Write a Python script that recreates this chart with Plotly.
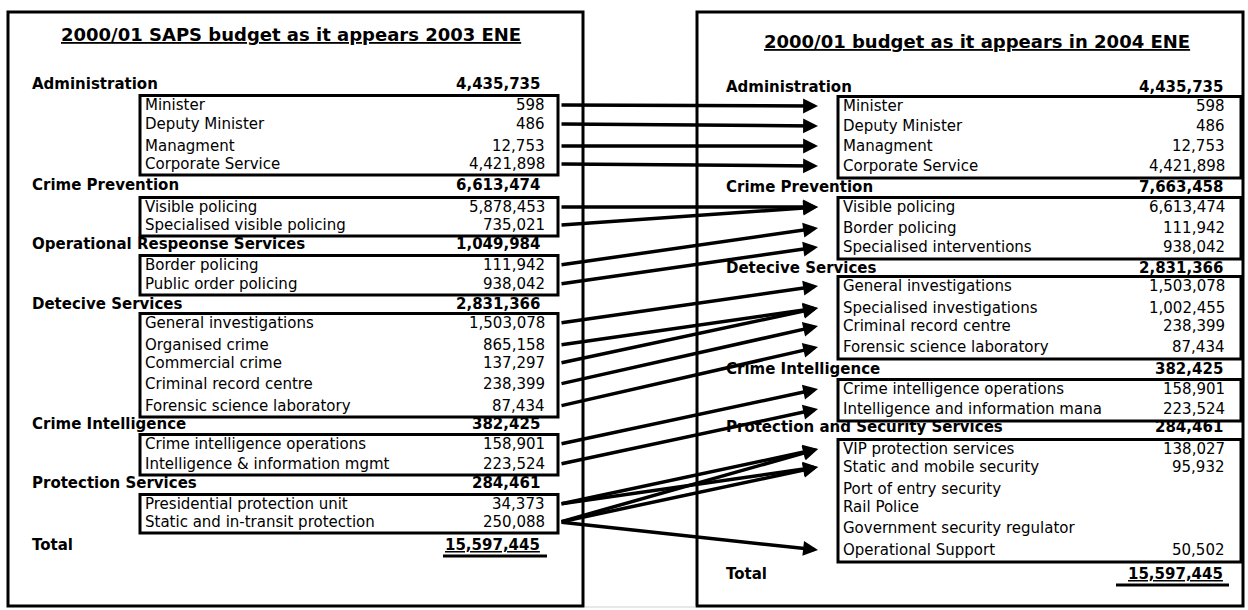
import plotly.graph_objects as go

# ---------------- data ----------------
left_title = "2000/01 SAPS budget as it appears 2003 ENE"
right_title = "2000/01 budget as it appears in 2004 ENE"

left_programmes = ["Administration", "Crime Prevention", "Operational Respeonse Services",
                   "Detecive Services", "Crime Intelligence", "Protection Services"]
left_programme_totals = [4435735, 6613474, 1049984, 2831366, 382425, 284461]
left_subprogrammes = [
    ["Minister", "Deputy Minister", "Managment", "Corporate Service"],
    ["Visible policing", "Specialised visible policing"],
    ["Border policing", "Public order policing"],
    ["General investigations", "Organised crime", "Commercial crime",
     "Criminal record centre", "Forensic science laboratory"],
    ["Crime intelligence operations", "Intelligence & information mgmt"],
    ["Presidential protection unit", "Static and in-transit protection"],
]
left_subprogramme_values = [
    [598, 486, 12753, 4421898],
    [5878453, 735021],
    [111942, 938042],
    [1503078, 865158, 137297, 238399, 87434],
    [158901, 223524],
    [34373, 250088],
]
left_total = 15597445

right_programmes = ["Administration", "Crime Prevention", "Detecive Services",
                    "Crime Intelligence", "Protection and Security Services"]
right_programme_totals = [4435735, 7663458, 2831366, 382425, 284461]
right_subprogrammes = [
    ["Minister", "Deputy Minister", "Managment", "Corporate Service"],
    ["Visible policing", "Border policing", "Specialised interventions"],
    ["General investigations", "Specialised investigations",
     "Criminal record centre", "Forensic science laboratory"],
    ["Crime intelligence operations", "Intelligence and information mana"],
    ["VIP protection services", "Static and mobile security", "Port of entry security",
     "Rail Police", "Government security regulator", "Operational Support"],
]
right_subprogramme_values = [
    [598, 486, 12753, 4421898],
    [6613474, 111942, 938042],
    [1503078, 1002455, 238399, 87434],
    [158901, 223524],
    [138027, 95932, None, None, None, 50502],
]
right_total = 15597445

links = [
    ("Minister", "Minister"),
    ("Deputy Minister", "Deputy Minister"),
    ("Managment", "Managment"),
    ("Corporate Service", "Corporate Service"),
    ("Visible policing", "Visible policing"),
    ("Specialised visible policing", "Visible policing"),
    ("Border policing", "Border policing"),
    ("Public order policing", "Specialised interventions"),
    ("General investigations", "General investigations"),
    ("Organised crime", "Specialised investigations"),
    ("Commercial crime", "Specialised investigations"),
    ("Criminal record centre", "Criminal record centre"),
    ("Forensic science laboratory", "Forensic science laboratory"),
    ("Crime intelligence operations", "Crime intelligence operations"),
    ("Intelligence & information mgmt", "Intelligence and information mana"),
    ("Presidential protection unit", "VIP protection services"),
    ("Presidential protection unit", "Static and mobile security"),
    ("Static and in-transit protection", "VIP protection services"),
    ("Static and in-transit protection", "Static and mobile security"),
    ("Static and in-transit protection", "Operational Support"),
]

# ---------------- layout (positions / styles) ----------------
W, H = 1248, 610
FONT = "DejaVu Sans"
left_layout = dict(
    frame=(8, 12, 583, 606), title_x=291, title_y=34,
    header_x=30, header_num_x=542, item_x=143, item_num_x=547,
    box_x=(140, 558), header_y=[84, 185, 244, 304, 424, 483],
    item_y=[[105, 124, 146, 164], [207, 225], [265, 284],
            [323, 345, 363, 384, 406], [444, 464], [504, 522]],
    total_y=545, underline=(443, 547, 556), box_pad=(9.5, 11),
)
right_layout = dict(
    frame=(697, 12, 1243, 606), title_x=977, title_y=41,
    header_x=724, header_num_x=1225, item_x=841, item_num_x=1227,
    box_x=(838, 1241), header_y=[87, 187, 268, 369, 427],
    item_y=[[106, 126, 146, 166], [207, 228, 247], [286, 308, 326, 347],
            [389, 409], [449, 467, 489, 507, 528, 550]],
    total_y=574, underline=(1116, 1229, 585), box_pad=(9.5, 12),
)
ARROW_START_X, ARROW_TIP_X = 560, 818


def fmt(v):
    return "" if v is None else f"{v:,}"


fig = go.Figure()
fig.add_trace(go.Scatter(x=[], y=[], showlegend=False))
annotations, shapes = [], []


def txt(x, y, s, anchor="left", bold=False, size=15, under=False):
    annotations.append(dict(
        x=x, y=y, xref="x", yref="y", text=s, showarrow=False,
        xanchor=anchor, yanchor="middle",
        font=dict(family=FONT, size=size, color="black",
                  weight="bold" if bold else "normal",
                  lineposition="under" if under else "none"),
    ))


def draw_panel(title, progs, prog_totals, subs, sub_vals, total, L):
    fx0, fy0, fx1, fy1 = L["frame"]
    shapes.append(dict(type="rect", x0=fx0, y0=fy0, x1=fx1, y1=fy1,
                       line=dict(color="black", width=3)))
    txt(L["title_x"], L["title_y"], title, anchor="center", bold=True, size=18, under=True)
    pos = {}
    pt, pb = L["box_pad"]
    for i, prog in enumerate(progs):
        hy = L["header_y"][i]
        txt(L["header_x"], hy, prog, bold=True)
        txt(L["header_num_x"], hy, fmt(prog_totals[i]), anchor="right", bold=True)
        ys = L["item_y"][i]
        for lab, val, y in zip(subs[i], sub_vals[i], ys):
            txt(L["item_x"], y, lab)
            txt(L["item_num_x"], y, fmt(val), anchor="right")
            pos[lab] = y
        bx0, bx1 = L["box_x"]
        shapes.append(dict(type="rect", x0=bx0, x1=bx1, y0=ys[0] - pt, y1=ys[-1] + pb,
                           line=dict(color="black", width=3)))
    txt(L["header_x"], L["total_y"], "Total", bold=True)
    txt(L["header_num_x"], L["total_y"], fmt(total), anchor="right", bold=True, under=True)
    ux0, ux1, uy = L["underline"]
    shapes.append(dict(type="line", x0=ux0, x1=ux1, y0=uy, y1=uy,
                       line=dict(color="black", width=3)))
    return pos


lpos = draw_panel(left_title, left_programmes, left_programme_totals, left_subprogrammes,
                  left_subprogramme_values, left_total, left_layout)
rpos = draw_panel(right_title, right_programmes, right_programme_totals, right_subprogrammes,
                  right_subprogramme_values, right_total, right_layout)

# faint line between panels at the bottom
shapes.append(dict(type="line", x0=585, x1=696, y0=607, y1=607,
                   line=dict(color="#d0d0d0", width=1)))

for src, dst in links:
    annotations.append(dict(
        x=ARROW_TIP_X, y=rpos[dst], ax=ARROW_START_X, ay=lpos[src],
        xref="x", yref="y", axref="x", ayref="y", text="",
        showarrow=True, arrowhead=2, arrowsize=0.85, arrowwidth=3.5,
        arrowcolor="black", standoff=0, startstandoff=0,
    ))

fig.update_layout(
    width=W, height=H, margin=dict(l=0, r=0, t=0, b=0),
    paper_bgcolor="white", plot_bgcolor="white", showlegend=False,
    xaxis=dict(range=[0, W], visible=False, fixedrange=True),
    yaxis=dict(range=[H, 0], visible=False, fixedrange=True),
    shapes=shapes, annotations=annotations,
)

fig.write_html("out.html", config={"displayModeBar": False},
               post_script="document.body.style.margin='0';document.body.style.overflow='hidden';")
